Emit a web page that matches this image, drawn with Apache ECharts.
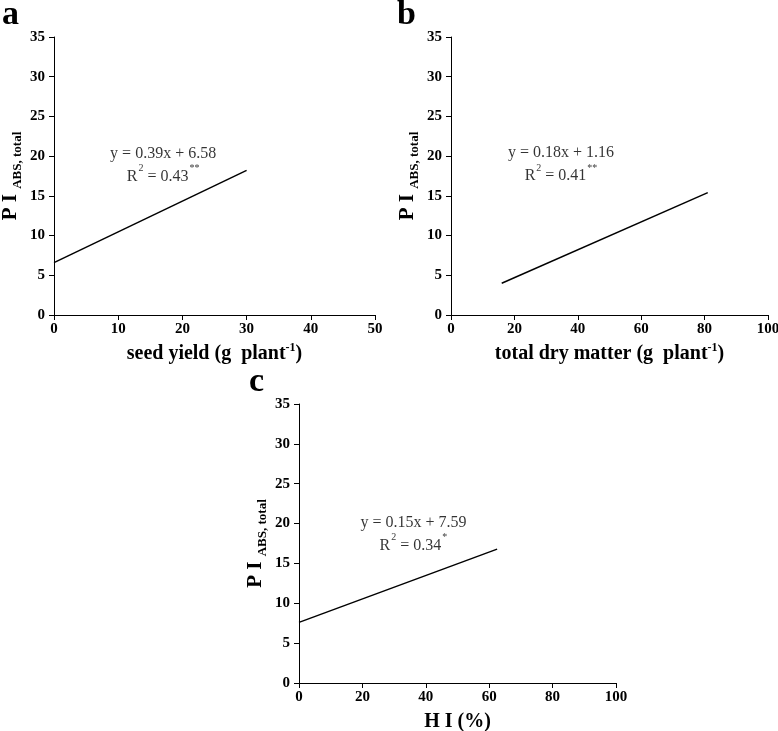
<!DOCTYPE html>
<html>
<head>
<meta charset="utf-8">
<script src="https://cdn.jsdelivr.net/npm/echarts@6/dist/echarts.min.js"></script>
<style>
  html, body { margin: 0; padding: 0; background: #fff; }
  #chart { width: 778px; height: 731px; }
</style>
</head>
<body>
<div id="chart"></div>
<script>
// fitted lines: [x, y] start and end
var lineA = [[0, 6.6], [30, 18.2]];
var lineB = [[16, 4.0], [81, 15.4]];
var lineC = [[0, 7.6], [62.5, 16.8]];

var eqText = ["y = 0.39x + 6.58", "y = 0.18x + 1.16", "y = 0.15x + 7.59"];
var r2Text = ["0.43", "0.41", "0.34"];
var r2Stars = ["**", "**", "*"];

var xNames = ["seed yield (g  plant", "total dry matter (g  plant", "H I (%)"];
var xMax = [50, 100, 100];
var xStep = [10, 20, 20];
var yMax = 35, yStep = 5;

// where each equation block is anchored, in data units
var labelAt = [[17, 19.3], [34.7, 19.4], [36.1, 19.1]];

var serif = "Liberation Serif, Times New Roman, serif";
var chart = echarts.init(document.getElementById("chart"));

var grids = [
    {left: 54, top: 37, width: 321, height: 278, outerBoundsMode: "none"},
    {left: 451, top: 37, width: 317, height: 278, outerBoundsMode: "none"},
    {left: 299, top: 404, width: 317, height: 279, outerBoundsMode: "none"}
];

var xAxes = [], yAxes = [], series = [];
var lines = [lineA, lineB, lineC];

for (var i = 0; i < 3; i++) {
    var xn = i < 2 ? "{n|" + xNames[i] + "}{sup|-1}{n|)}" : "{n|" + xNames[i] + "}";
    xAxes.push({
        gridIndex: i, type: "value", min: 0, max: xMax[i], interval: xStep[i],
        splitLine: {show: false},
        axisLine: {lineStyle: {color: "#000", width: 1}},
        axisTick: {length: 5, lineStyle: {color: "#000"}},
        axisLabel: {color: "#000", fontFamily: serif, fontWeight: "bold", fontSize: 15, margin: 7},
        name: xn, nameLocation: "middle", nameGap: 27,
        nameTextStyle: {
            rich: {
                n: {fontFamily: serif, fontWeight: "bold", fontSize: 20, color: "#000", verticalAlign: "bottom", lineHeight: 22},
                sup: {fontFamily: serif, fontWeight: "bold", fontSize: 12, color: "#000", verticalAlign: "top", lineHeight: 22}
            }
        }
    });
    yAxes.push({
        gridIndex: i, type: "value", min: 0, max: yMax, interval: yStep,
        splitLine: {show: false},
        axisLine: {show: true, lineStyle: {color: "#000", width: 1}},
        axisTick: {show: true, length: 5, lineStyle: {color: "#000"}},
        axisLabel: {color: "#000", fontFamily: serif, fontWeight: "bold", fontSize: 15, margin: 9},
        name: "{p|P I }{s|ABS, total}", nameLocation: "middle", nameGap: 33, nameRotate: 90,
        nameTextStyle: {
            rich: {
                p: {fontFamily: serif, fontWeight: "bold", fontSize: 21, color: "#000", verticalAlign: "bottom", lineHeight: 22},
                s: {fontFamily: serif, fontWeight: "bold", fontSize: 13, color: "#000", verticalAlign: "bottom", lineHeight: 22, padding: [0, 0, -3, 0]}
            }
        }
    });
    series.push({
        type: "line", xAxisIndex: i, yAxisIndex: i, data: lines[i],
        showSymbol: false, silent: true,
        lineStyle: {color: "#000", width: 1.5}
    });
    series.push({
        type: "scatter", xAxisIndex: i, yAxisIndex: i, data: [labelAt[i]],
        symbolSize: 0, silent: true,
        label: {
            show: true, position: "inside", align: "center",
            color: "#000", textBorderWidth: 0,
            formatter: "{e|" + eqText[i] + "}\n{e|R}{s|2}{e| = " + r2Text[i] + "}{s|" + r2Stars[i] + "}",
            rich: {
                e: {fontFamily: serif, fontSize: 16, color: "#000", lineHeight: 23, verticalAlign: "bottom", textBorderWidth: 0},
                s: {fontFamily: serif, fontSize: 10, color: "#000", lineHeight: 23, verticalAlign: "top", padding: [2, 0, 0, 1], textBorderWidth: 0}
            }
        }
    });
}

var letters = [["a", 2, -2], ["b", 397, -2], ["c", 249, 365]];
var graphic = letters.map(function (d) {
    return {
        type: "text", left: d[1], top: d[2],
        style: {text: d[0], fontFamily: serif, fontWeight: "bold", fontSize: 34, fill: "#000"}
    };
});

chart.setOption({
    animation: false,
    backgroundColor: "#fff",
    grid: grids,
    xAxis: xAxes,
    yAxis: yAxes,
    series: series,
    graphic: graphic
});
</script>
</body>
</html>
